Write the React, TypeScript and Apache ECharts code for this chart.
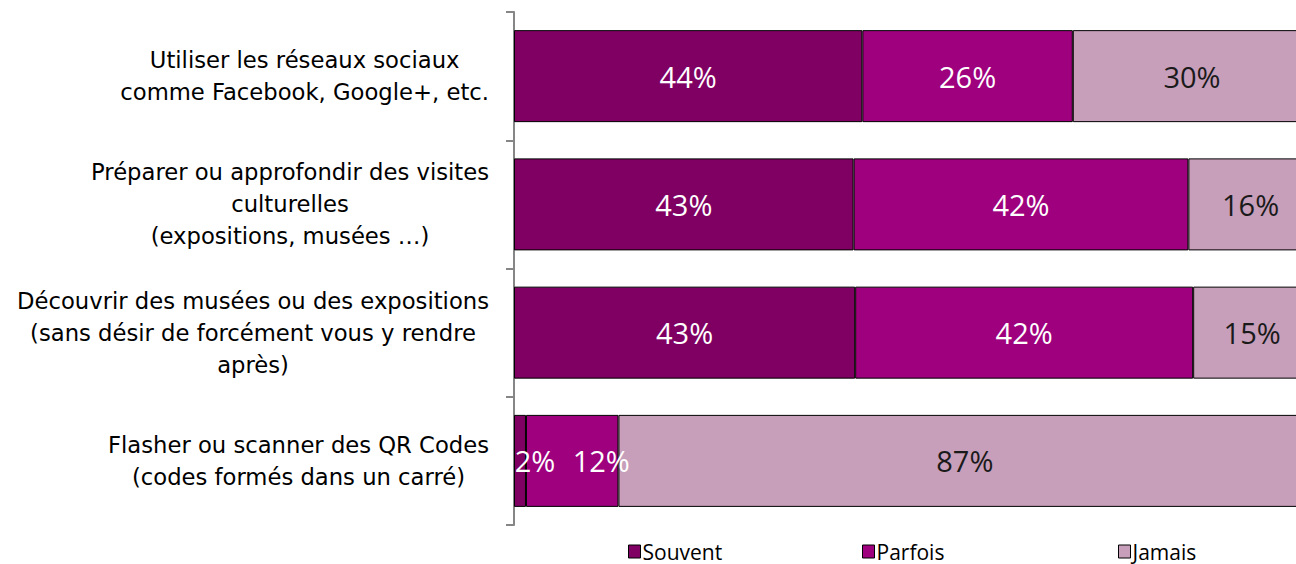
import React, { useEffect, useRef } from "react";
import * as echarts from "echarts";

const categories = [
  "Utiliser les réseaux sociaux\ncomme Facebook, Google+, etc.",
  "Préparer ou approfondir des visites\nculturelles\n(expositions, musées …)",
  "Découvrir des musées ou des expositions\n(sans désir de forcément vous y rendre\naprès)",
  "Flasher ou scanner des QR Codes\n(codes formés dans un carré)",
];
const seriesNames = ["Souvent", "Parfois", "Jamais"];
const souvent = [43.7, 42.6, 42.8, 1.5];
const parfois = [26.4, 42.0, 42.4, 11.6];
const jamais = [29.9, 15.6, 14.8, 86.9];
const colors = ["#7F0062", "#9E007E", "#C79FBA"];
const labelColors = ["#FFFFFF", "#FFFFFF", "#1a1a1a"];
const FONT = "Open Sans";
const CAT_FONT = "DejaVu Sans";
// label shifts for the narrow segments of the last row (series index -> x offset)
const lastRowLabelShift = [15, 29, 0];

export default function App() {
  const ref = useRef<HTMLDivElement>(null);
  useEffect(() => {
    const chart = echarts.init(ref.current!, null, { renderer: "svg" });
    const data = [souvent, parfois, jamais];
    const legendLefts = [628, 862, 1118];
    chart.setOption({
      animation: false,
      grid: { left: 514, right: 0, top: 12, bottom: 39 },
      xAxis: { type: "value", min: 0, max: 98.1, show: false },
      yAxis: {
        type: "category",
        inverse: true,
        data: categories,
        axisLine: { show: true, lineStyle: { color: "#868686", width: 2 } },
        axisTick: { show: true, length: 8, lineStyle: { color: "#868686", width: 2 } },
        axisLabel: {
          margin: 25,
          formatter: (v: string) => v.split("\n").map((l) => `{c|${l}}`).join("\n"),
          rich: {
            c: { align: "center", fontSize: 22.7, lineHeight: 32, fontFamily: CAT_FONT, color: "#000" },
          },
        },
      },
      legend: seriesNames.map((n, i) => ({
        data: [n],
        left: legendLefts[i],
        top: 541,
        padding: 0,
        itemWidth: 12,
        itemHeight: 13,
        itemGap: 4,
        icon: "rect",
        itemStyle: { borderColor: "#000", borderWidth: 1 },
        textStyle: { fontFamily: FONT, fontSize: 21, lineHeight: 21, color: "#000", padding: [0, 0, 0, -3] },
      })),
      series: seriesNames.map((n, i) => ({
        name: n,
        type: "bar",
        stack: "total",
        barWidth: 92,
        clip: false,
        data: data[i].map((v, j) =>
          j === data[i].length - 1 && lastRowLabelShift[i]
            ? { value: v, label: { offset: [lastRowLabelShift[i], 0] } }
            : v
        ),
        itemStyle: { color: colors[i], borderColor: "#000", borderWidth: 1 },
        label: {
          show: true,
          position: "inside",
          formatter: (p: any) => `${Math.round(p.value)}%`,
          color: labelColors[i],
          fontFamily: FONT,
          fontSize: 29,
        },
      })),
    });
    return () => chart.dispose();
  }, []);
  return (
    <div
      ref={ref}
      style={{ position: "absolute", left: 0, top: 0, width: 1296, height: 564 }}
    />
  );
}
